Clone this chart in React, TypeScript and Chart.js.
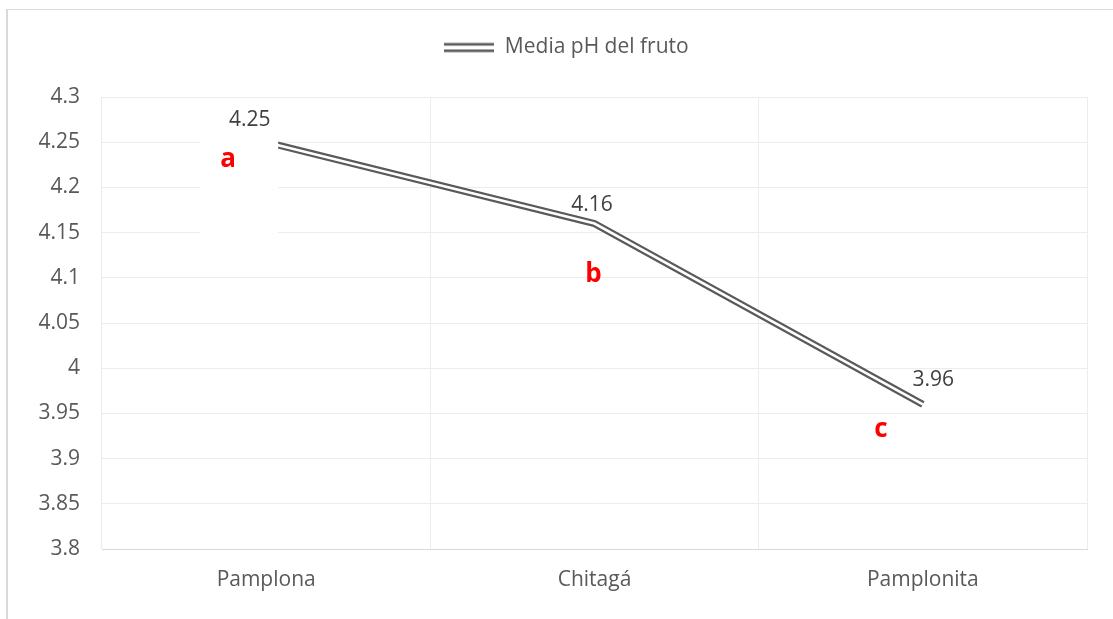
import { useEffect, useRef } from 'react';
import { Chart, registerables } from 'chart.js';

Chart.register(...registerables);

const categories = ['Pamplona', 'Chitagá', 'Pamplonita'];
const phMeans = [4.25, 4.16, 3.96];
const valueLabels = ['4.25', '4.16', '3.96'];
const groupLetters = ['a', 'b', 'c'];
const seriesLabel = 'Media pH del fruto';
const yMin = 3.8;
const yMax = 4.3;
const yStep = 0.05;

const FONT = '"Open Sans", "DejaVu Sans", sans-serif';
const TEXT = '#595959';
const LINE = '#5a5a5a';

// style offsets (pixels, relative to each point)
const valueLabelOffsets = [
  [-16.5, -16],
  [-2.5, -13],
  [10.5, -18.5],
];
const letterOffsets = [
  [-38, 25],
  [-1, 58],
  [-42, 33],
];

function makeLegendSymbol(): HTMLCanvasElement {
  const c = document.createElement('canvas');
  c.width = 50;
  c.height = 12;
  const g = c.getContext('2d');
  if (g) {
    g.fillStyle = LINE;
    g.fillRect(0, 1.5, 50, 2.6);
    g.fillRect(0, 8, 50, 2.6);
  }
  return c;
}

const decorPlugin = {
  id: 'decor',
  beforeInit(chart: any) {
    const legend = chart.legend;
    if (legend) {
      const origFit = legend.fit;
      legend.fit = function () {
        origFit.call(this);
        this.height += 29;
      };
    }
  },
  afterLayout(chart: any) {
    const legend = chart.legend;
    if (legend) {
      legend.left += 23;
      legend.right += 23;
    }
  },
  beforeDraw(chart: any) {
    const ctx = chart.ctx;
    ctx.save();
    ctx.fillStyle = '#ffffff';
    ctx.fillRect(0, 0, chart.width, chart.height);
    ctx.fillStyle = '#d9d9d9';
    ctx.fillRect(6, 9, 2, chart.height);
    ctx.fillRect(6, 9, chart.width, 1);
    ctx.restore();
  },
  afterDatasetsDraw(chart: any) {
    const ctx = chart.ctx;
    const meta = chart.getDatasetMeta(0);
    const pts = meta.data;
    ctx.save();
    // white text box behind letter "a"
    const p0 = pts[0];
    ctx.fillStyle = '#ffffff';
    ctx.fillRect(p0.x - 66, p0.y - 10, 78, 105);

    ctx.textAlign = 'center';
    ctx.textBaseline = 'alphabetic';
    ctx.font = `21px ${FONT}`;
    ctx.fillStyle = '#404040';
    pts.forEach((p: any, i: number) => {
      const [dx, dy] = valueLabelOffsets[i];
      ctx.fillText(valueLabels[i], p.x + dx, p.y + dy);
    });
    ctx.font = `bold 26px ${FONT}`;
    ctx.fillStyle = '#ff0000';
    pts.forEach((p: any, i: number) => {
      const [dx, dy] = letterOffsets[i];
      ctx.fillText(groupLetters[i], p.x + dx, p.y + dy);
    });
    ctx.restore();
  },
};

export default function App() {
  const ref = useRef<HTMLCanvasElement | null>(null);

  useEffect(() => {
    if (!ref.current) return;
    const symbol = makeLegendSymbol();
    const chart = new Chart(ref.current, {
      type: 'line',
      data: {
        labels: categories,
        datasets: [
          {
            label: seriesLabel,
            data: phMeans,
            borderColor: LINE,
            backgroundColor: LINE,
            borderWidth: 7,
            pointRadius: 0,
            tension: 0,
            borderJoinStyle: 'miter',
            borderCapStyle: 'butt',
            order: 2,
          },
          {
            label: '_inner',
            data: phMeans,
            borderColor: '#ffffff',
            backgroundColor: '#ffffff',
            borderWidth: 2.6,
            pointRadius: 0,
            tension: 0,
            borderJoinStyle: 'miter',
            borderCapStyle: 'butt',
            order: 1,
          },
        ],
      },
      options: {
        responsive: false,
        animation: false,
        events: [],
        layout: { padding: { left: 0, right: 26, top: 27, bottom: 0 } },
        plugins: {
          tooltip: { enabled: false },
          legend: {
            display: true,
            position: 'top',
            align: 'center',
            labels: {
              usePointStyle: true,
              pointStyle: symbol as any,
              pointStyleWidth: 50,
              boxHeight: 12,
              padding: 10,
              color: TEXT,
              font: { family: FONT, size: 21 },
              filter: (item: any) => item.datasetIndex === 0,
            },
          },
        },
        scales: {
          x: {
            type: 'category',
            offset: true,
            grid: { offset: true, color: '#ececec', lineWidth: 1, drawTicks: false },
            border: { display: true, color: '#d9d9d9' },
            ticks: { color: TEXT, font: { family: FONT, size: 21 }, padding: 18, maxRotation: 0 },
            afterFit: (scale: any) => {
              scale.height = 70;
            },
          },
          y: {
            min: yMin,
            max: yMax,
            grid: { color: '#ececec', lineWidth: 1, drawTicks: false },
            border: { display: false },
            ticks: {
              stepSize: yStep,
              color: TEXT,
              font: { family: FONT, size: 21 },
              padding: 22,
              callback: (v: any) => String(Number(Number(v).toFixed(2))),
            },
            afterFit: (scale: any) => {
              scale.width = 102;
            },
          },
        },
      },
      plugins: [decorPlugin],
    });
    return () => chart.destroy();
  }, []);

  return (
    <div style={{ position: 'absolute', left: 0, top: 0, width: 1113, height: 619 }}>
      <canvas ref={ref} width={1113} height={619} style={{ display: 'block' }} />
    </div>
  );
}
